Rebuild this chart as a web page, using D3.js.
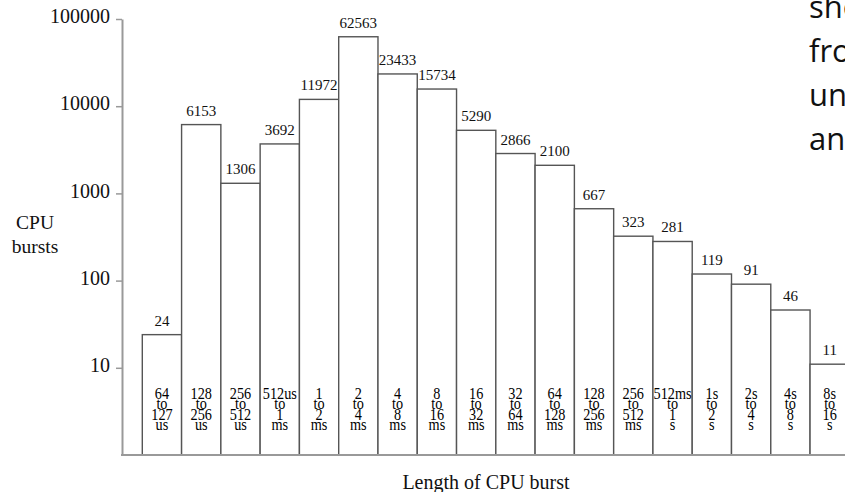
<!DOCTYPE html>
<html>
<head>
<meta charset="utf-8">
<script src="https://cdn.jsdelivr.net/npm/d3@7"></script>
<style>
  html, body { margin: 0; padding: 0; background: #fff; overflow: hidden; }
  svg { display: block; }
  text { font-family: "Liberation Serif", "Times New Roman", serif; fill: #111; }
  .side { font-family: "Open Sans", "Noto Sans", sans-serif; fill: #111; }
</style>
</head>
<body>
<svg id="chart" width="845" height="492"></svg>
<script>
// Burst-length bins (each label is stacked over several lines inside its bar)
const binLabels = [
  ["64", "to", "127", "us"],
  ["128", "to", "256", "us"],
  ["256", "to", "512", "us"],
  ["512us", "to", "1", "ms"],
  ["1", "to", "2", "ms"],
  ["2", "to", "4", "ms"],
  ["4", "to", "8", "ms"],
  ["8", "to", "16", "ms"],
  ["16", "to", "32", "ms"],
  ["32", "to", "64", "ms"],
  ["64", "to", "128", "ms"],
  ["128", "to", "256", "ms"],
  ["256", "to", "512", "ms"],
  ["512ms", "to", "1", "s"],
  ["1s", "to", "2", "s"],
  ["2s", "to", "4", "s"],
  ["4s", "to", "8", "s"],
  ["8s", "to", "16", "s"]
];

// Number of CPU bursts in each bin
const burstCounts = [24, 6153, 1306, 3692, 11972, 62563, 23433, 15734, 5290,
                     2866, 2100, 667, 323, 281, 119, 91, 46, 11];

// Y-axis tick values (log scale)
const yTicks = [10, 100, 1000, 10000, 100000];

// Axis titles
const yTitleLines = ["CPU", "bursts"];
const xTitle = "Length of CPU burst";

// Slide text running along the right edge
const sideLines = ["sho", "fro", "un", "an"];

const svg = d3.select("#chart");

const axisX = 122, baseY = 455, topY = 19;
const barsLeft = 142.3, barStep = 39.28;

const keys = binLabels.map((d, i) => i);
const x = d3.scaleBand()
  .domain(keys)
  .range([barsLeft, barsLeft + barStep * keys.length])
  .padding(0);

const y = d3.scaleLog()
  .domain([1, 100000])
  .range([baseY, topY]);

// Bars
svg.append("g")
  .selectAll("rect")
  .data(burstCounts)
  .join("rect")
  .attr("x", (d, i) => x(i))
  .attr("y", d => y(d))
  .attr("width", x.bandwidth())
  .attr("height", d => baseY - y(d))
  .attr("fill", "#fff")
  .attr("stroke", "#555")
  .attr("stroke-width", 1.4);

// Value labels above bars
svg.append("g")
  .selectAll("text")
  .data(burstCounts)
  .join("text")
  .attr("x", (d, i) => x(i) + x.bandwidth() / 2)
  .attr("y", d => y(d) - 9)
  .attr("text-anchor", "middle")
  .style("font-size", "15px")
  .text(d => d);

// Bin labels stacked inside bars, one text block per bin
const binText = svg.append("g")
  .selectAll("text")
  .data(binLabels)
  .join("text")
  .attr("transform", (d, i) => `translate(${x(i) + x.bandwidth() / 2},398.5) scale(0.95,1.08)`)
  .attr("text-anchor", "middle")
  .style("font-size", "15px")
  .style("fill", "#000");

binText.selectAll("tspan")
  .data(d => d)
  .join("tspan")
  .attr("x", 0)
  .attr("y", (d, j) => j * 9.8)
  .text(d => d);

// Y axis
const yAxis = d3.axisLeft(y)
  .tickValues(yTicks)
  .tickFormat(d3.format("d"))
  .tickSize(6)
  .tickSizeOuter(0)
  .tickPadding(6);

const yG = svg.append("g")
  .attr("transform", `translate(${axisX},0)`)
  .call(yAxis);

yG.select(".domain").attr("stroke", "#999").attr("stroke-width", 2);
yG.selectAll(".tick line").attr("stroke", "#999").attr("stroke-width", 1.5);
yG.selectAll(".tick text")
  .attr("dy", "0.18em")
  .style("font-family", "'Liberation Serif', 'Times New Roman', serif")
  .style("font-size", "20px")
  .attr("fill", "#111");

// Baseline
svg.append("line")
  .attr("x1", axisX - 1)
  .attr("x2", 845)
  .attr("y1", baseY)
  .attr("y2", baseY)
  .attr("stroke", "#999")
  .attr("stroke-width", 2);

// Y-axis title
svg.append("g")
  .selectAll("text")
  .data(yTitleLines)
  .join("text")
  .attr("x", 35)
  .attr("y", (d, i) => 229 + i * 24)
  .attr("text-anchor", "middle")
  .style("font-size", "19.5px")
  .text(d => d);

// X-axis title
svg.append("text")
  .attr("x", 486)
  .attr("y", 489)
  .attr("text-anchor", "middle")
  .style("font-size", "20px")
  .text(xTitle);

// Right-edge slide text
svg.append("g")
  .selectAll("text")
  .data(sideLines)
  .join("text")
  .attr("class", "side")
  .attr("x", 809)
  .attr("y", (d, i) => 18 + i * 44)
  .style("font-size", "31px")
  .text(d => d);
</script>
</body>
</html>
